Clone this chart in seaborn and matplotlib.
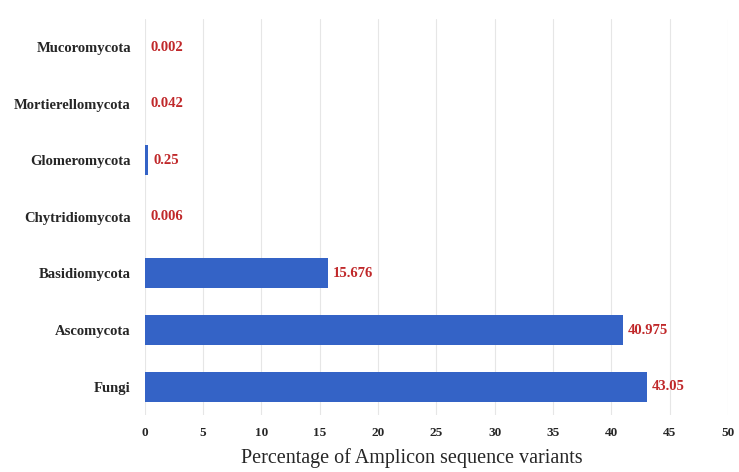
import matplotlib
matplotlib.use("Agg")
import matplotlib.pyplot as plt
import seaborn as sns
import pandas as pd

# data
phyla = ["Mucoromycota", "Mortierellomycota", "Glomeromycota", "Chytridiomycota",
         "Basidiomycota", "Ascomycota", "Fungi"]
percent = [0.002, 0.042, 0.25, 0.006, 15.676, 40.975, 43.05]
value_labels = ["0.002", "0.042", "0.25", "0.006", "15.676", "40.975", "43.05"]
x_ticks = [0, 5, 10, 15, 20, 25, 30, 35, 40, 45, 50]

df = pd.DataFrame({"phylum": phyla, "percent": percent})

sns.set_theme(style="white")
plt.rcParams["font.family"] = ["Liberation Serif", "DejaVu Serif"]

fig = plt.figure(figsize=(7.39, 4.72), dpi=100)
ax = fig.add_axes([0.196, 0.121, 0.789, 0.839])

sns.barplot(data=df, x="percent", y="phylum", order=phyla, orient="h",
            color="#3463c6", saturation=1, width=0.53, linewidth=0, ax=ax)

for i, (v, lab) in enumerate(zip(percent, value_labels)):
    ax.text(v + 0.45, i, lab, color="#c0282a", fontweight="bold",
            fontsize=10.5, va="center", ha="left")

ax.set_xlim(0, 50)
ax.set_xticks(x_ticks)
ax.set_xticklabels([str(t) for t in x_ticks], fontweight="bold", fontsize=9.5)
ax.set_yticklabels(phyla, fontweight="bold", fontsize=10.5)
ax.set_xlabel("Percentage of Amplicon sequence variants", fontsize=14.5)
ax.xaxis.set_label_coords(0.458, -0.085)
ax.set_ylabel("")
ax.tick_params(axis="x", length=0, pad=9)
ax.tick_params(axis="y", length=0, pad=10)
ax.xaxis.grid(True, color="#e6e6e6", linewidth=0.8)
ax.set_axisbelow(True)
for s in ax.spines.values():
    s.set_visible(False)

fig.savefig("out.png", dpi=100)
